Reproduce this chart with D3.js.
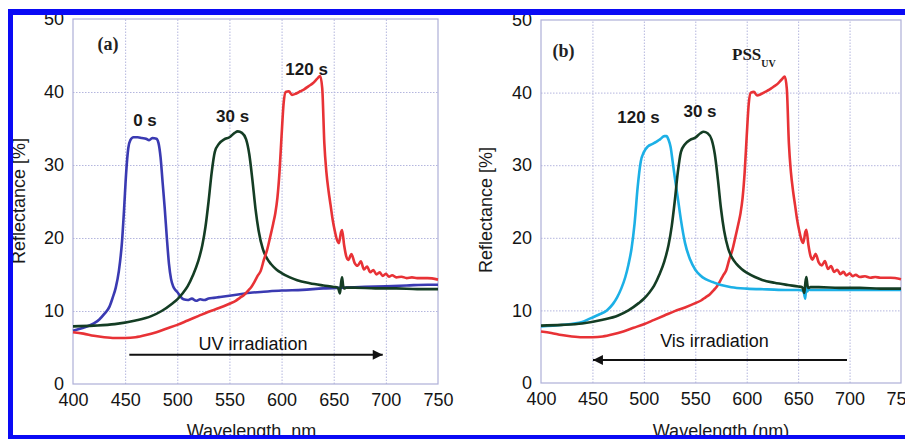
<!DOCTYPE html>
<html>
<head>
<meta charset="utf-8">
<script src="https://cdn.jsdelivr.net/npm/d3@7/dist/d3.min.js"></script>
<style>
  html, body { margin: 0; padding: 0; background: #fff; }
  svg { display: block; }
  .tick text { font-family: "Liberation Sans", Arial, sans-serif; font-size: 18px; fill: #141414; }
</style>
</head>
<body>
<svg id="chart" width="905" height="439"></svg>
<script>
// ---- axis ticks ----
const xTickValues = [400, 450, 500, 550, 600, 650, 700, 750];
const yTickValues = [0, 10, 20, 30, 40, 50];

// ---- reflectance spectra (wavelength in nm, reflectance in %) ----
// 0 s : before irradiation
const wl0s   = [400, 410, 420, 425, 430, 435, 438, 441, 444, 447, 449, 451, 453, 455, 458, 462, 466, 470, 473, 476, 480, 482, 484, 486, 488, 490, 492, 494, 496, 498, 500, 503, 506, 510, 514, 518, 522, 526, 530, 535, 540, 550, 560, 570, 580, 600, 620, 640, 660, 680, 700, 720, 740, 750];
const refl0s = [7.3, 7.7, 8.3, 8.8, 9.6, 10.6, 11.8, 13.2, 15.5, 19.5, 24, 29, 32.3, 33.4, 33.8, 33.8, 33.7, 33.6, 33.4, 33.7, 33.6, 33.0, 31, 27.5, 24, 20, 16.5, 14.4, 13.4, 12.9, 12.6, 12.0, 11.6, 11.5, 11.7, 11.4, 11.6, 11.5, 11.7, 11.8, 11.9, 12.1, 12.3, 12.5, 12.6, 12.8, 12.9, 13.1, 13.2, 13.3, 13.4, 13.5, 13.6, 13.6];

// 30 s
const wl30s   = [400, 420, 440, 460, 475, 485, 495, 500, 505, 510, 515, 520, 524, 527, 530, 533, 536, 540, 545, 550, 555, 558, 562, 566, 569, 572, 575, 578, 582, 586, 590, 595, 600, 608, 615, 627, 640, 650, 654, 656, 657, 658, 659, 660, 662, 670, 690, 710, 730, 750];
const refl30s = [7.9, 8.0, 8.2, 8.7, 9.3, 10.0, 11.0, 11.6, 12.4, 13.4, 14.9, 16.8, 19.0, 21.5, 25.0, 29.0, 31.8, 32.9, 33.5, 33.8, 34.4, 34.6, 34.4, 33.5, 31.5, 28, 24, 21, 18.5, 17.2, 16.4, 15.7, 15.2, 14.6, 14.2, 13.8, 13.5, 13.3, 13.2, 12.4, 13.8, 14.6, 13.5, 13.1, 13.2, 13.2, 13.1, 13.1, 13.0, 13.0];

// 120 s UV (photostationary state PSS_UV)
const wl120uv   = [400, 410, 420, 430, 440, 450, 460, 470, 480, 490, 500, 510, 520, 530, 540, 550, 556, 560, 564, 568, 571, 574, 577, 580, 583, 586, 589, 592, 594, 596, 598, 600, 602, 604, 607, 610, 614, 618, 622, 626, 630, 634, 637, 639, 641, 643, 645, 647, 649, 651, 653, 655, 657, 658, 660, 662, 664, 667, 670, 673, 676, 679, 682, 685, 688, 691, 694, 697, 700, 703, 706, 710, 715, 720, 725, 730, 740, 750];
const refl120uv = [7.1, 6.9, 6.6, 6.4, 6.3, 6.3, 6.4, 6.7, 7.1, 7.6, 8.1, 8.7, 9.3, 9.9, 10.4, 11.0, 11.4, 11.8, 12.2, 12.8, 13.3, 14.0, 14.8, 15.5, 17.0, 18.3, 20.1, 22.0, 23.4, 25.5, 29, 34, 38.5, 40.0, 40.1, 39.6, 39.8, 40.1, 40.4, 40.8, 41.2, 41.8, 42.2, 40.5, 33, 29, 26.5, 24.5, 22.5, 21.0, 19.8, 19.3, 20.8, 21.1, 19.0, 17.5, 17.0, 17.8, 16.6, 16.2, 16.8, 15.7, 16.1, 15.3, 15.6, 15.0, 15.3, 14.8, 15.1, 14.7, 14.9, 14.6, 14.7, 14.5, 14.6, 14.5, 14.5, 14.3];

// 120 s Vis
const wl120vis   = [400, 420, 440, 448, 456, 464, 470, 474, 478, 482, 485, 488, 491, 494, 497, 500, 504, 508, 512, 516, 520, 522, 524, 526, 528, 530, 533, 536, 540, 545, 550, 555, 560, 567, 575, 585, 600, 620, 640, 650, 655, 657, 658, 659, 660, 662, 670, 690, 710, 730, 750];
const refl120vis = [7.8, 8.0, 8.4, 8.9, 9.4, 10.0, 10.9, 11.8, 13.0, 14.6, 16.3, 18.5, 22, 27, 30.5, 31.8, 32.6, 32.9, 33.2, 33.6, 34.0, 34.0, 33.5, 32.5, 30.5, 28.4, 25.5, 22.5, 19.3, 17.0, 15.6, 14.8, 14.3, 13.9, 13.5, 13.2, 13.0, 12.9, 12.8, 12.8, 12.7, 11.6, 13.9, 12.6, 12.9, 12.8, 12.8, 12.8, 12.8, 12.8, 12.8];

// ---- annotation texts (anchored in data coordinates) ----
const labelsA = [
  { text: "0 s",   wl: 469, r: 35.3 },
  { text: "30 s",  wl: 553, r: 35.9 },
  { text: "120 s", wl: 624, r: 42.3 }
];
const labelsB = [
  { text: "120 s", wl: 494.8, r: 35.8 },
  { text: "30 s",  wl: 554.6, r: 36.6 }
];

const pair = (xs, ys) => xs.map((x, i) => ({ wl: x, r: ys[i] }));

const COLORS = { s0: "#3a3ab2", s30: "#143d24", uv: "#e83236", vis: "#1cb0e6" };

const panels = [
  {
    box: { l: 73, r: 438, t: 19, b: 384 },
    series: [
      { data: pair(wl0s, refl0s), color: COLORS.s0 },
      { data: pair(wl30s, refl30s), color: COLORS.s30 },
      { data: pair(wl120uv, refl120uv), color: COLORS.uv }
    ],
    tag: { text: "(a)", wl: 433.6, r: 45.7 },
    labels: labelsA,
    arrow: { from: 454, to: 697, r: 4.0, text: "UV irradiation", textWl: 572.6, textR: 4.66 },
    yTitle: { x: 25, y: 201 },
    xTitle: "Wavelength, nm"
  },
  {
    box: { l: 541, r: 901, t: 20, b: 383 },
    series: [
      { data: pair(wl120uv, refl120uv), color: COLORS.uv },
      { data: pair(wl120vis, refl120vis), color: COLORS.vis },
      { data: pair(wl30s, refl30s), color: COLORS.s30 }
    ],
    tag: { text: "(b)", wl: 421.9, r: 44.9 },
    labels: labelsB,
    pss: { wl: 607, r: 44.5 },
    arrow: { from: 697.5, to: 450.5, r: 3.17, text: "Vis irradiation", textWl: 568.7, textR: 4.96 },
    yTitle: { x: 492, y: 210 },
    xTitle: "Wavelength (nm)"
  }
];

const svg = d3.select("#chart");
svg.append("rect").attr("width", 905).attr("height", 439).attr("fill", "#fff");

const defs = svg.append("defs");
defs.append("marker")
  .attr("id", "arrowhead")
  .attr("viewBox", "0 0 10 10")
  .attr("refX", 10).attr("refY", 5)
  .attr("markerWidth", 6).attr("markerHeight", 5)
  .attr("markerUnits", "strokeWidth")
  .attr("orient", "auto")
  .append("path").attr("d", "M0,0 L10,5 L0,10 Z").attr("fill", "#111");

const SANS = '"Liberation Sans", Arial, sans-serif';
const SERIF = '"Liberation Serif", "Times New Roman", serif';

panels.forEach((p, idx) => {
  const { l, r, t, b } = p.box;
  const x = d3.scaleLinear().domain([400, 750]).range([l, r]);
  const y = d3.scaleLinear().domain([0, 50]).range([b, t]);
  const g = svg.append("g");

  // grid
  g.append("g")
    .attr("transform", `translate(0,${b})`)
    .call(d3.axisBottom(x).tickValues(xTickValues.slice(1, -1)).tickSize(-(b - t)).tickFormat(""))
    .call(s => s.select(".domain").remove())
    .call(s => s.selectAll("line").attr("stroke", "#b4b6de").attr("stroke-dasharray", "1.5,1.5"));
  g.append("g")
    .attr("transform", `translate(${l},0)`)
    .call(d3.axisLeft(y).tickValues(yTickValues.slice(1, -1)).tickSize(-(r - l)).tickFormat(""))
    .call(s => s.select(".domain").remove())
    .call(s => s.selectAll("line").attr("stroke", "#b4b6de").attr("stroke-dasharray", "1.5,1.5"));

  // frame
  g.append("rect")
    .attr("x", l).attr("y", t).attr("width", r - l).attr("height", b - t)
    .attr("fill", "none").attr("stroke", "#aeb0d8").attr("stroke-width", 1.2);

  // tick labels
  g.append("g")
    .attr("transform", `translate(0,${b})`)
    .call(d3.axisBottom(x).tickValues(xTickValues).tickSize(0).tickPadding(9))
    .call(s => s.select(".domain").remove());
  g.append("g")
    .attr("transform", `translate(${l},0)`)
    .call(d3.axisLeft(y).tickValues(yTickValues).tickSize(0).tickPadding(9))
    .call(s => s.select(".domain").remove());

  // spectra
  const line = d3.line().x(d => x(d.wl)).y(d => y(d.r)).curve(d3.curveMonotoneX);
  p.series.forEach(s => {
    g.append("path")
      .datum(s.data)
      .attr("d", line)
      .attr("fill", "none")
      .attr("stroke", s.color)
      .attr("stroke-width", 2.6)
      .attr("stroke-linejoin", "round");
  });

  // panel tag
  g.append("text")
    .attr("x", x(p.tag.wl)).attr("y", y(p.tag.r))
    .attr("text-anchor", "middle")
    .attr("font-family", SERIF).attr("font-weight", "bold").attr("font-size", 18)
    .attr("fill", "#222")
    .text(p.tag.text);

  // curve labels
  p.labels.forEach(lb => {
    g.append("text")
      .attr("x", x(lb.wl)).attr("y", y(lb.r))
      .attr("text-anchor", "middle")
      .attr("font-family", SANS).attr("font-weight", "bold").attr("font-size", 17)
      .attr("fill", "#1a1a1a")
      .text(lb.text);
  });

  if (p.pss) {
    const tx = g.append("text")
      .attr("x", x(p.pss.wl)).attr("y", y(p.pss.r))
      .attr("text-anchor", "middle")
      .attr("font-family", SERIF).attr("font-weight", "bold").attr("font-size", 17)
      .attr("fill", "#1a1a1a");
    tx.append("tspan").text("PSS");
    tx.append("tspan").attr("font-size", 10).attr("dy", 7).text("UV");
  }

  // irradiation arrow
  const a = p.arrow;
  g.append("line")
    .attr("x1", x(a.from)).attr("y1", y(a.r))
    .attr("x2", x(a.to)).attr("y2", y(a.r))
    .attr("stroke", "#111").attr("stroke-width", 2)
    .attr("marker-end", "url(#arrowhead)");
  g.append("text")
    .attr("x", x(a.textWl)).attr("y", y(a.textR))
    .attr("text-anchor", "middle")
    .attr("font-family", SANS).attr("font-size", 18)
    .attr("fill", "#111")
    .text(a.text);

  // axis titles
  g.append("text")
    .attr("transform", `translate(${p.yTitle.x},${p.yTitle.y}) rotate(-90)`)
    .attr("text-anchor", "middle")
    .attr("font-family", SANS).attr("font-size", 18)
    .attr("fill", "#1a1a1a")
    .text("Reflectance [%]");
  g.append("text")
    .attr("x", (l + r) / 2 + (idx === 0 ? -4 : 0)).attr("y", 437)
    .attr("text-anchor", "middle")
    .attr("font-family", SANS).attr("font-size", 18)
    .attr("fill", "#1a1a1a")
    .text(p.xTitle);
});

// blue frame around the figure
const border = svg.append("g").attr("fill", "#0a0af5");
border.append("rect").attr("x", 8).attr("y", 9).attr("width", 897).attr("height", 6);
border.append("rect").attr("x", 8).attr("y", 9).attr("width", 5).attr("height", 430);
border.append("rect").attr("x", 8).attr("y", 435).attr("width", 897).attr("height", 4);
</script>
</body>
</html>
